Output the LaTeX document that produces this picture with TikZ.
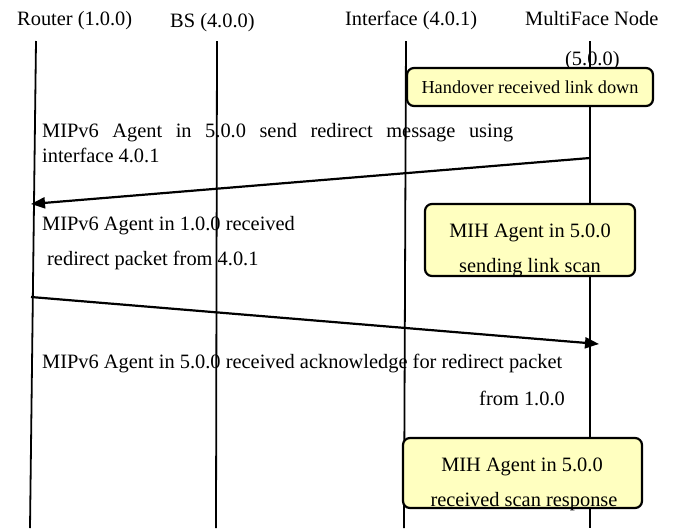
\documentclass[tikz,border=0pt]{standalone}
\usepackage{fontspec}
\setmainfont{Liberation Serif}
\usetikzlibrary{arrows.meta}
\definecolor{notefill}{RGB}{255,255,192}
\begin{document}
\begin{tikzpicture}[x=1pt, y=-1pt,
    every node/.style={inner sep=0pt, font=\fontsize{20.4}{24}\selectfont},
    lifeline/.style={line width=1.8pt},
    notebox/.style={draw, line width=2.2pt, fill=notefill, rounded corners=7pt},
    msg/.style={line width=2.2pt, -{Triangle[length=14pt, width=11pt]}}]
    \useasboundingbox (0,0) rectangle (686,528);

    % Headings
    \node[anchor=base west] (router) at (17,25) {Router (1.0.0)};
    \node[anchor=base west] (bs) at (170,27) {BS (4.0.0)};
    \node[anchor=base west] (iface) at (345,25) {Interface (4.0.1)};
    \node[anchor=base west] (mn) at (525,25) {MultiFace Node};
    \node[anchor=base west] (mnaddr) at (565,65) {(5.0.0)};

    % Message texts
    \node[anchor=base west] (txtredir) at (42,137)
        {\makebox[471pt][s]{MIPv6 Agent in 5.0.0 send redirect message using}};
    \node[anchor=base west] (txtredirb) at (42,162) {interface 4.0.1};
    \node[anchor=base west] (txtrecv) at (42,230) {MIPv6 Agent in 1.0.0 received};
    \node[anchor=base west] (txtrecvb) at (47,265) {redirect packet from 4.0.1};
    \node[anchor=base west] (txtack) at (42,368)
        {MIPv6 Agent in 5.0.0 received acknowledge for redirect packet};
    \node[anchor=base east] (txtackb) at (565,405) {from 1.0.0};

    % Lifelines
    \foreach \n/\xa/\xb in {router/36/30, bs/217/216, iface/406/404, mn/590/590} {
        \coordinate (\n top) at (\xa,41);
        \coordinate (\n bot) at (\xb,528);
        \draw[lifeline] (\n top) -- (\n bot);
    }

    % Notes on the MultiFace Node
    \node[notebox, minimum width=246pt, minimum height=38pt,
        font=\fontsize{18.3}{22}\selectfont] (linkdown) at (530,87)
        {Handover received link down};

    \node[notebox, minimum width=210pt, minimum height=72pt] (scan) at (530,240) {};
    \node[anchor=base] (scana) at (530,237) {MIH Agent in 5.0.0};
    \node[anchor=base] (scanb) at (530,272) {sending link scan};

    \node[notebox, minimum width=239pt, minimum height=70pt] (resp) at (522.5,473) {};
    \node[anchor=base] (respa) at (522,471) {MIH Agent in 5.0.0};
    \node[anchor=base] (respb) at (524,506) {received scan response};

    % Redirect messages
    \coordinate (redirfrom) at (590,158);
    \coordinate (redirto) at (31,204);
    \coordinate (ackfrom) at (31,297);
    \coordinate (ackto) at (599,344);
    \draw[msg] (redirfrom) -- (redirto);
    \draw[msg] (ackfrom) -- (ackto);
\end{tikzpicture}
\end{document}
